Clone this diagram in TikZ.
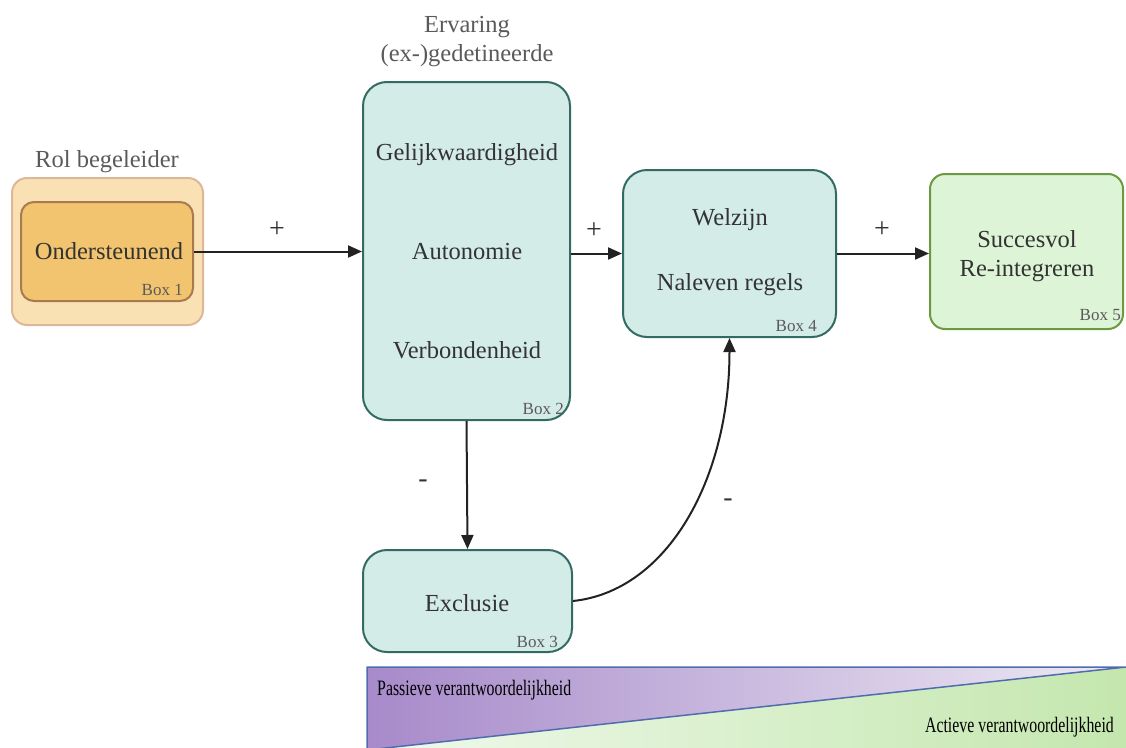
\documentclass[tikz,border=0pt]{standalone}
\usepackage{fontspec}
\setmainfont{Liberation Serif}
\newfontfamily\condfont[FakeStretch=0.72]{Liberation Serif}
\usetikzlibrary{arrows.meta,calc}
\definecolor{txt}{HTML}{333333}
\definecolor{lbl}{HTML}{5A5A5A}
\definecolor{tealfill}{HTML}{D3ECE8}
\definecolor{tealdraw}{HTML}{336B63}
\definecolor{grnfill}{HTML}{DEF4D6}
\definecolor{grndraw}{HTML}{6B9A40}
\definecolor{orfill}{HTML}{F9E1B3}
\definecolor{ordraw}{HTML}{DDB898}
\definecolor{orinfill}{HTML}{F2C46F}
\definecolor{orindraw}{HTML}{A87A4F}
\definecolor{arr}{HTML}{222222}
\definecolor{purp}{HTML}{A78ACA}
\definecolor{purpl}{HTML}{EEEAF4}
\definecolor{grl}{HTML}{F0F9EC}
\definecolor{grd}{HTML}{C4E7AE}
\definecolor{barblue}{HTML}{4F6DAE}
\tikzset{
  box/.style={rectangle, rounded corners=24pt, line width=2pt, inner sep=0pt},
  tealbox/.style={box, fill=tealfill, draw=tealdraw},
  main/.style={text=txt, font=\fontsize{24.5}{29}\selectfont, align=center, inner sep=0pt},
  head/.style={text=lbl, font=\fontsize{24.5}{29}\selectfont, align=center, inner sep=0pt},
  boxno/.style={text=lbl, font=\fontsize{17}{20}\selectfont, anchor=south east, inner sep=0pt},
  sign/.style={text=txt, font=\fontsize{28}{32}\selectfont, inner sep=0pt},
  conn/.style={draw=arr, line width=2pt, -{Triangle[length=14pt,width=12pt]}},
  bartext/.style={text=black, font=\condfont\fontsize{22}{26}\selectfont, inner sep=0pt}
}
\begin{document}
\begin{tikzpicture}[x=1pt,y=-1pt]
\useasboundingbox (0,0) rectangle (1126,747);

% Box 1
\node[box, rounded corners=15pt, fill=orfill, draw=ordraw, minimum width=191pt, minimum height=147pt] (b1out) at (107.5,251.5) {};
\node[box, rounded corners=13pt, fill=orinfill, draw=orindraw, minimum width=172pt, minimum height=99pt] (b1) at (107,251.5) {};
\node[main] (t1) at (109,251) {Ondersteunend};
\node[boxno] (n1) at ($(b1.south east)+(-11,-6)$) {Box 1};
\node[head] (h1) at (107,162) {Rol begeleider};

% Box 2
\node[tealbox, minimum width=207pt, minimum height=338pt] (b2) at (466.5,251) {};
\node[main] (t2a) at (467,155) {Gelijkwaardigheid};
\node[main] (t2b) at (467,252) {Autonomie};
\node[main] (t2c) at (467,350) {Verbondenheid};
\node[boxno] (n2) at ($(b2.south east)+(-7,-6)$) {Box 2};
\node[head] (h2) at (467,42) {Ervaring\\(ex-)gedetineerde};

% Box 4
\node[tealbox, minimum width=213pt, minimum height=167pt] (b4) at (729.5,253.5) {};
\node[main] (t4a) at (730,220) {Welzijn};
\node[main] (t4b) at (730,285) {Naleven regels};
\node[boxno] (n4) at ($(b4.south east)+(-20,-6)$) {Box 4};

% Box 5
\node[box, rounded corners=15pt, fill=grnfill, draw=grndraw, minimum width=193pt, minimum height=155pt] (b5) at (1026.5,251.5) {};
\node[main] (t5) at (1027,256) {Succesvol\\Re-integreren};
\node[boxno] (n5) at ($(b5.south east)+(-3,-9)$) {Box 5};

% Box 3
\node[tealbox, minimum width=209pt, minimum height=102pt] (b3) at (467.5,601) {};
\node[main] (t3) at (467,603) {Exclusie};
\node[boxno] (n3) at ($(b3.south east)+(-15,-5)$) {Box 3};

% Connectors
\draw[conn] (b1.east) -- (b1.east -| b2.west);
\node[sign] (p1) at (277,230) {+};
\draw[conn] (b2.east |- b4.west) -- (b4.west);
\node[sign] (p2) at (594,231) {+};
\draw[conn] (b4.east) -- (b4.east -| b5.west);
\node[sign] (p3) at (882,230) {+};
\draw[conn] (b2.south) -- (b3.north);
\node[sign] (m1) at (423,484) {-};
\draw[conn] (b3.east) .. controls +(95,-10) and +(0,140) .. (b4.south);
\node[sign] (m2) at (728,503) {-};

% Bottom bar
\coordinate (bl) at (367,750);
\coordinate (tl) at (367,667);
\coordinate (tr) at (1126,667);
\coordinate (br) at (1126,750);
\shade[left color=purp, right color=purpl] (tl) -- (tr) -- (bl) -- cycle;
\shade[left color=grl, right color=grd] (bl) -- (tr) -- (br) -- cycle;
\draw[barblue, line width=1.5pt] (bl) -- (tl) -- (tr) -- (bl);
\node[bartext, anchor=west] (pv) at (377,690) {Passieve verantwoordelijkheid};
\node[bartext, anchor=east] (av) at (1114,727) {Actieve verantwoordelijkheid};
\end{tikzpicture}
\end{document}
